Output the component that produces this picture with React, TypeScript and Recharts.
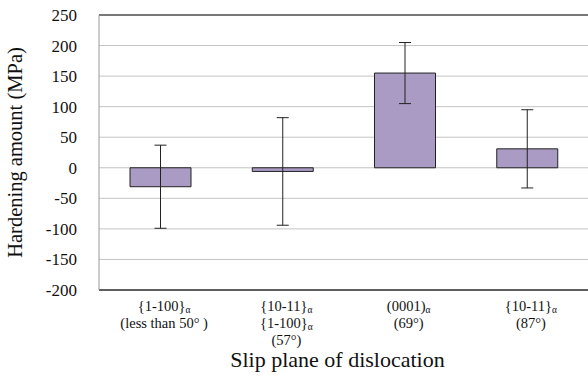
import { BarChart, Bar, XAxis, YAxis, CartesianGrid, ErrorBar, ReferenceLine } from "recharts";

const planes = ["p1", "p2", "p3", "p4"];
const hardening = [-31, -6, 155, 31];
const spread = [68, 88, 50, 64];
// "_" marks the start of a subscript
const tickLines = [
  ["{1-100}_α", "(less than 50° )"],
  ["{10-11}_α", "{1-100}_α", "(57°)"],
  ["(0001)_α", "(69°)"],
  ["{10-11}_α", "(87°)"],
];
const yTicks = [-200, -150, -100, -50, 0, 50, 100, 150, 200, 250];

const data = planes.map((p, i) => ({
  plane: p,
  value: hardening[i],
  err: spread[i],
}));

const FONT = "'Times New Roman', 'Liberation Serif', 'DejaVu Serif', serif";

const PlaneTick = (props: any) => {
  const { x, y, index } = props;
  const lines = tickLines[index] || [];
  return (
    <g>
      {lines.map((line, i) => {
        const [main, sub] = line.split("_");
        return (
          <text
            key={i}
            x={x + 4}
            y={y + 13 + i * 17}
            textAnchor="middle"
            fontFamily={FONT}
            fontSize={14.5}
            fill="#111"
          >
            {main}
            {sub && (
              <tspan fontSize={9.5} dy={2}>
                {sub}
              </tspan>
            )}
          </text>
        );
      })}
    </g>
  );
};

const YTitle = (props: any) => {
  const vb = props.viewBox || {};
  const cy = vb.y + vb.height / 2;
  return (
    <text
      x={15}
      y={cy}
      transform={`rotate(-90, 15, ${cy})`}
      textAnchor="middle"
      dominantBaseline="central"
      fontFamily={FONT}
      fontSize={20.5}
      fill="#111"
    >
      Hardening amount (MPa)
    </text>
  );
};

const XTitle = (props: any) => {
  const vb = props.viewBox || {};
  return (
    <text
      x={vb.x + vb.width / 2 - 6}
      y={367}
      textAnchor="middle"
      fontFamily={FONT}
      fontSize={22}
      fill="#111"
    >
      Slip plane of dislocation
    </text>
  );
};

export default function App() {
  return (
    <div style={{ position: "absolute", left: 0, top: 0, background: "#fff" }}>
      <BarChart
        width={588}
        height={382}
        data={data}
        margin={{ top: 15, right: 0, left: 0, bottom: 0 }}
      >
        <CartesianGrid vertical={false} stroke="#c4c4c4" strokeWidth={1} />
        <ReferenceLine y={250} stroke="#555" strokeWidth={1.5} />
        <XAxis
          dataKey="plane"
          height={92}
          interval={0}
          tickLine={false}
          axisLine={{ stroke: "#333", strokeWidth: 1.5 }}
          tick={<PlaneTick />}
          label={<XTitle />}
        />
        <YAxis
          width={99}
          domain={[-200, 250]}
          ticks={yTicks}
          interval={0}
          tickLine={false}
          tickSize={6}
          tickMargin={16}
          axisLine={{ stroke: "#999" }}
          tick={{ fontFamily: FONT, fontSize: 17, fill: "#111" }}
          label={<YTitle />}
        />
        <Bar
          dataKey="value"
          fill="#a99bc4"
          stroke="#222"
          strokeWidth={1}
          barSize={61}
          isAnimationActive={false}
        >
          <ErrorBar dataKey="err" width={6} stroke="#222" strokeWidth={1} />
        </Bar>
      </BarChart>
    </div>
  );
}
